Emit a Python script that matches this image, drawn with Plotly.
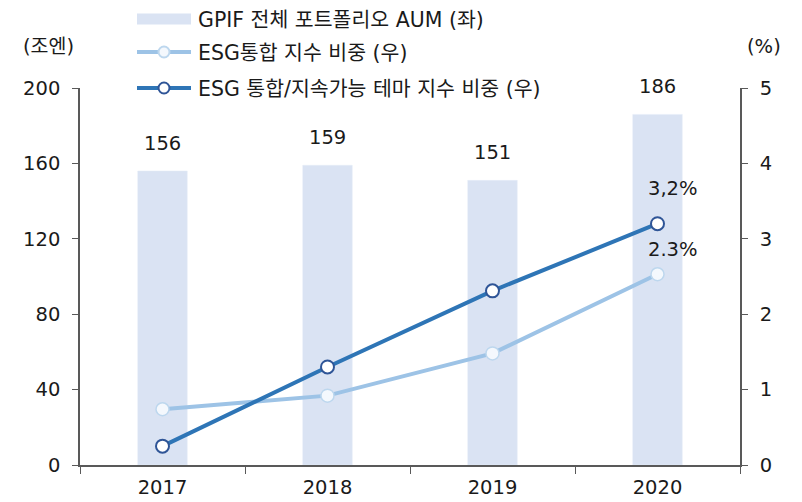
import plotly.graph_objects as go

years = ["2017", "2018", "2019", "2020"]
aum = [156, 159, 151, 186]
esg_share = [0.74, 0.92, 1.48, 2.53]
esg_theme_share = [0.25, 1.30, 2.31, 3.20]
left_ticks = [0, 40, 80, 120, 160, 200]
right_ticks = [0, 1, 2, 3, 4, 5]
legend_names = ["GPIF 전체 포트폴리오 AUM (좌)", "ESG통합 지수 비중 (우)", "ESG 통합/지속가능 테마 지수 비중 (우)"]
end_labels = ["2.3%", "3,2%"]

FONT = "DejaVu Sans, Noto Sans CJK KR"
BAR_C = "#DAE3F3"
LIGHT_C = "#9DC3E6"
DARK_C = "#2E75B6"
DARK_EDGE = "#2F5597"
LIGHT_EDGE = "#BDD7EE"
TXT = "#1a1a1a"
AX = "#595959"
FS = 19.5
LEG_FS = 20.5

# page has an 8px body margin, so the figure is drawn 8px in from the top-left
OFF = 8
W, H = 802 - OFF, 502 - OFF
L, R, T, B = 80 - OFF, 62, 88 - OFF, 37
pw, ph = W - L - R, H - T - B

def px_x(px):
    return (px - OFF - L) / pw

def px_y(py):
    return (H - B - (py - OFF)) / ph

fig = go.Figure()
fig.add_trace(go.Bar(x=years, y=aum, width=0.3, marker_color=BAR_C, showlegend=False, yaxis="y"))
fig.add_trace(go.Scatter(x=years, y=esg_share, mode="lines+markers", yaxis="y2", showlegend=False,
                         line=dict(color=LIGHT_C, width=4),
                         marker=dict(size=13, color="#F4F8FD", line=dict(color=LIGHT_EDGE, width=1.5))))
fig.add_trace(go.Scatter(x=years, y=esg_theme_share, mode="lines+markers", yaxis="y2", showlegend=False,
                         line=dict(color=DARK_C, width=4),
                         marker=dict(size=13, color="white", line=dict(color=DARK_EDGE, width=2))))

annotations = []
for i, v in enumerate(aum):
    annotations.append(dict(x=i, y=v, xref="x", yref="y", text=str(v), showarrow=False,
                            yanchor="bottom", yshift=14, font=dict(size=FS, color=TXT, family=FONT)))
last = len(years) - 1
annotations.append(dict(x=last, y=esg_share[-1], xref="x", yref="y2", text=end_labels[0], showarrow=False,
                        xshift=15, yshift=25, font=dict(size=FS, color=TXT, family=FONT)))
annotations.append(dict(x=last, y=esg_theme_share[-1], xref="x", yref="y2", text=end_labels[1], showarrow=False,
                        xshift=15, yshift=35, font=dict(size=FS, color=TXT, family=FONT)))
annotations.append(dict(x=0, y=1, xref="paper", yref="paper", text="(조엔)", showarrow=False,
                        xanchor="center", yanchor="middle",
                        xshift=-32, yshift=42, font=dict(size=FS, color=TXT, family=FONT)))
annotations.append(dict(x=1, y=1, xref="paper", yref="paper", text="(%)", showarrow=False,
                        xanchor="center", yanchor="middle",
                        xshift=24, yshift=42, font=dict(size=FS, color=TXT, family=FONT)))

# manual legend
shapes = []
leg_x0, leg_x1 = 137, 191
leg_rows = [19, 52, 88]
shapes.append(dict(type="rect", xref="paper", yref="paper", x0=px_x(leg_x0), x1=px_x(leg_x1),
                   y0=px_y(leg_rows[0] + 5.5), y1=px_y(leg_rows[0] - 5.5), fillcolor=BAR_C, line=dict(width=0)))
for row, col, edge, fill in [(leg_rows[1], LIGHT_C, LIGHT_EDGE, "#F4F8FD"), (leg_rows[2], DARK_C, DARK_EDGE, "white")]:
    shapes.append(dict(type="line", xref="paper", yref="paper", x0=px_x(leg_x0), x1=px_x(leg_x1),
                       y0=px_y(row), y1=px_y(row), line=dict(color=col, width=4)))
    shapes.append(dict(type="circle", xref="paper", yref="paper", x0=px_x(158.5), x1=px_x(169.5),
                       y0=px_y(row + 5.5), y1=px_y(row - 5.5), fillcolor=fill, line=dict(color=edge, width=2)))
for name, row in zip(legend_names, leg_rows):
    annotations.append(dict(x=px_x(196), y=px_y(row + 1), xref="paper", yref="paper", text=name,
                            showarrow=False, xanchor="left", yanchor="middle",
                            font=dict(size=LEG_FS, color=TXT, family=FONT)))

fig.update_layout(
    width=W, height=H,
    margin=dict(l=L, r=R, t=T, b=B, autoexpand=False),
    plot_bgcolor="white", paper_bgcolor="white",
    font=dict(family=FONT, size=FS, color=TXT),
    showlegend=False,
    annotations=annotations,
    shapes=shapes,
    xaxis=dict(type="category", range=[-0.5, 3.5], showline=True, linecolor=AX, linewidth=1.5,
               ticks="outside", tickson="boundaries", ticklen=7, tickcolor=AX, showgrid=False,
               tickfont=dict(size=FS, family=FONT, color=TXT), ticklabelstandoff=4, automargin=False),
    yaxis=dict(range=[0, 200], tickvals=left_ticks, showline=True, linecolor=AX, linewidth=1.5,
               ticks="outside", ticklen=6, tickcolor=AX, showgrid=False, zeroline=False,
               tickfont=dict(size=FS, family=FONT, color=TXT), ticklabelstandoff=8, automargin=False),
    yaxis2=dict(range=[0, 5], tickvals=right_ticks, overlaying="y", side="right", showline=True,
                linecolor=AX, linewidth=1.5, ticks="outside", ticklen=6, tickcolor=AX, showgrid=False,
                zeroline=False, tickfont=dict(size=FS, family=FONT, color=TXT), ticklabelstandoff=8,
                automargin=False),
)

fig.write_html("out.html")
